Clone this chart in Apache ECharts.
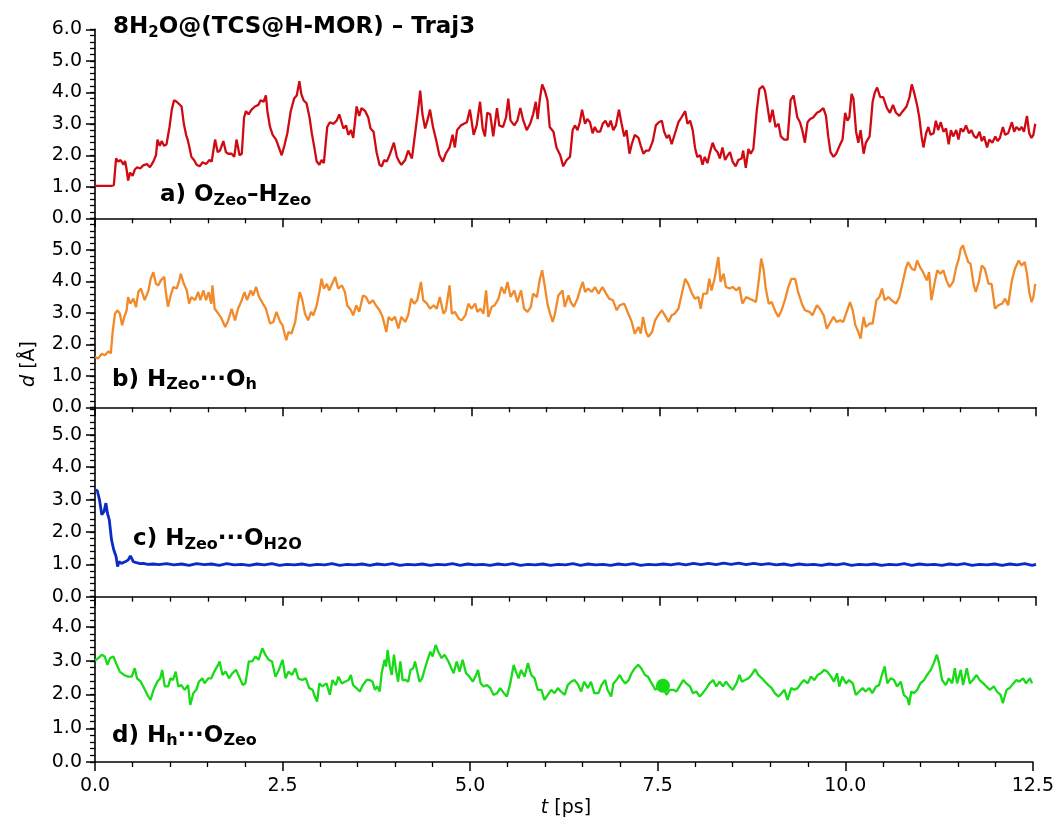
<!DOCTYPE html>
<html>
<head>
<meta charset="utf-8">
<script src="https://cdn.jsdelivr.net/npm/echarts@6/dist/echarts.min.js"></script>
<style>
html,body{margin:0;padding:0;background:#fff;}
#chart{width:1057px;height:825px;}
</style>
</head>
<body>
<div id="chart"></div>
<script>
// ---- data (t [ps], d [Å]) ----
const dataA = [[0,1.03],[0.11,1.03],[0.22,1.03],[0.25,1.05],[0.28,1.90],[0.31,1.80],[0.34,1.85],[0.38,1.70],[0.40,1.82],[0.42,1.55],[0.44,1.20],[0.465,1.45],[0.50,1.35],[0.53,1.55],[0.56,1.62],[0.60,1.58],[0.64,1.68],[0.69,1.72],[0.73,1.62],[0.775,1.80],[0.81,2.00],[0.83,2.50],[0.86,2.30],[0.885,2.45],[0.92,2.30],[0.95,2.35],[0.99,2.90],[1.02,3.45],[1.05,3.75],[1.085,3.70],[1.12,3.62],[1.15,3.55],[1.18,3.00],[1.21,2.65],[1.23,2.50],[1.25,2.30],[1.28,1.95],[1.315,1.85],[1.35,1.70],[1.39,1.65],[1.43,1.78],[1.475,1.72],[1.52,1.85],[1.55,1.80],[1.595,2.50],[1.63,2.10],[1.66,2.15],[1.705,2.45],[1.74,2.10],[1.77,2.05],[1.815,2.05],[1.85,1.95],[1.88,2.50],[1.92,2.00],[1.95,2.05],[1.98,3.20],[2.005,3.40],[2.04,3.30],[2.08,3.45],[2.125,3.55],[2.17,3.60],[2.20,3.75],[2.24,3.70],[2.27,3.90],[2.29,3.40],[2.325,2.90],[2.36,2.65],[2.405,2.50],[2.45,2.20],[2.48,2.00],[2.515,2.30],[2.555,2.70],[2.60,3.40],[2.645,3.80],[2.68,3.90],[2.715,4.35],[2.74,3.95],[2.77,3.75],[2.81,3.65],[2.85,3.20],[2.88,2.70],[2.91,2.30],[2.945,1.80],[2.98,1.70],[3.01,1.85],[3.04,1.75],[3.085,2.90],[3.12,3.05],[3.165,3.00],[3.21,3.10],[3.245,3.30],[3.27,3.35],[3.30,2.85],[3.335,2.95],[3.365,2.65],[3.40,2.80],[3.43,2.55],[3.475,3.55],[3.51,3.25],[3.54,3.50],[3.59,3.40],[3.63,3.20],[3.66,2.85],[3.70,2.75],[3.74,2.10],[3.78,1.70],[3.81,1.65],[3.84,1.85],[3.875,1.80],[3.92,2.05],[3.97,2.40],[4.01,1.95],[4.04,1.80],[4.07,1.70],[4.12,1.85],[4.16,2.15],[4.21,1.90],[4.25,2.65],[4.30,3.60],[4.32,4.05],[4.35,3.30],[4.385,2.85],[4.415,3.10],[4.45,3.45],[4.49,2.90],[4.53,2.50],[4.575,2.00],[4.62,1.80],[4.66,2.05],[4.71,2.25],[4.75,2.65],[4.78,2.25],[4.81,2.80],[4.86,2.95],[4.90,3.00],[4.94,3.05],[4.98,3.45],[5.03,2.65],[5.07,2.95],[5.115,3.70],[5.15,2.85],[5.18,2.60],[5.21,3.35],[5.25,3.30],[5.29,2.60],[5.34,3.50],[5.37,2.95],[5.42,2.90],[5.46,3.20],[5.49,3.80],[5.52,3.10],[5.57,2.95],[5.61,3.10],[5.65,3.50],[5.69,3.10],[5.735,2.80],[5.78,3.00],[5.82,3.30],[5.855,3.70],[5.88,3.15],[5.91,3.80],[5.94,4.25],[5.975,4.05],[6.01,3.75],[6.04,2.90],[6.09,2.75],[6.13,2.25],[6.18,2.00],[6.22,1.65],[6.265,1.85],[6.31,1.95],[6.345,2.80],[6.375,2.95],[6.41,2.80],[6.44,3.05],[6.47,3.45],[6.51,3.00],[6.54,3.15],[6.575,3.05],[6.61,2.70],[6.64,2.90],[6.67,2.75],[6.71,2.75],[6.745,3.00],[6.78,3.10],[6.82,2.90],[6.85,3.10],[6.885,2.80],[6.92,2.95],[6.96,3.45],[6.995,3.00],[7.03,2.60],[7.06,2.80],[7.10,2.05],[7.13,2.35],[7.17,2.65],[7.22,2.55],[7.25,2.30],[7.285,2.05],[7.32,2.15],[7.36,2.15],[7.41,2.45],[7.45,2.95],[7.49,3.05],[7.53,3.10],[7.56,2.75],[7.595,2.55],[7.625,2.65],[7.66,2.35],[7.705,2.70],[7.75,3.05],[7.79,3.20],[7.84,3.40],[7.87,3.00],[7.905,3.10],[7.94,2.80],[7.97,2.25],[8.00,1.95],[8.04,2.00],[8.07,1.70],[8.10,1.95],[8.135,1.75],[8.17,2.10],[8.205,2.40],[8.235,2.20],[8.27,2.10],[8.30,1.90],[8.335,2.25],[8.37,1.85],[8.405,2.00],[8.435,2.10],[8.47,1.80],[8.51,1.65],[8.545,1.85],[8.59,1.90],[8.61,2.15],[8.645,1.60],[8.68,2.20],[8.71,2.05],[8.745,2.20],[8.79,3.40],[8.825,4.10],[8.87,4.20],[8.90,4.05],[8.93,3.60],[8.965,3.05],[9.00,3.45],[9.04,2.90],[9.08,3.00],[9.11,2.60],[9.155,2.50],[9.20,2.50],[9.24,3.75],[9.28,3.90],[9.305,3.95],[9.33,3.20],[9.365,3.05],[9.40,2.75],[9.43,2.40],[9.465,3.05],[9.50,3.15],[9.54,3.20],[9.59,3.35],[9.63,3.40],[9.675,3.50],[9.71,3.25],[9.74,2.60],[9.77,2.10],[9.81,1.95],[9.845,2.05],[9.89,2.30],[9.93,2.50],[9.965,3.35],[9.995,3.10],[10.02,3.20],[10.05,3.95],[10.075,3.80],[10.11,2.75],[10.14,2.40],[10.17,2.80],[10.21,2.05],[10.24,2.40],[10.29,2.60],[10.33,3.70],[10.36,4.00],[10.39,4.15],[10.43,3.85],[10.47,3.85],[10.52,3.50],[10.56,3.35],[10.60,3.60],[10.64,3.35],[10.685,3.25],[10.73,3.40],[10.78,3.55],[10.82,3.85],[10.85,4.25],[10.88,4.00],[10.92,3.60],[10.95,3.20],[10.98,2.60],[11.005,2.25],[11.04,2.70],[11.07,2.90],[11.10,2.65],[11.14,2.70],[11.17,3.10],[11.20,2.80],[11.235,3.05],[11.27,2.75],[11.305,2.85],[11.34,2.35],[11.37,2.80],[11.40,2.60],[11.44,2.80],[11.47,2.50],[11.50,2.85],[11.535,2.75],[11.57,2.95],[11.61,2.70],[11.64,2.80],[11.68,2.60],[11.71,2.55],[11.75,2.75],[11.78,2.45],[11.81,2.60],[11.85,2.25],[11.88,2.50],[11.92,2.40],[11.96,2.60],[11.99,2.45],[12.02,2.55],[12.06,2.90],[12.09,2.65],[12.13,2.70],[12.18,3.05],[12.21,2.75],[12.24,2.90],[12.28,2.80],[12.31,2.90],[12.34,2.75],[12.38,3.25],[12.41,2.70],[12.44,2.55],[12.465,2.65],[12.49,3.00]];

const dataB = [[0,1.60],[0.04,1.55],[0.09,1.70],[0.13,1.65],[0.18,1.78],[0.21,1.71],[0.235,2.40],[0.265,2.97],[0.30,3.08],[0.33,2.97],[0.36,2.60],[0.39,2.87],[0.42,3.08],[0.44,3.50],[0.47,3.29],[0.51,3.45],[0.545,3.18],[0.575,3.66],[0.61,3.77],[0.63,3.82],[0.66,3.40],[0.71,3.71],[0.74,4.08],[0.775,4.29],[0.81,3.92],[0.84,3.87],[0.875,4.03],[0.92,4.14],[0.94,3.66],[0.97,3.19],[1.005,3.55],[1.04,3.82],[1.085,3.77],[1.12,4.03],[1.14,4.24],[1.18,3.92],[1.22,3.71],[1.25,3.29],[1.28,3.50],[1.33,3.40],[1.37,3.66],[1.40,3.40],[1.44,3.71],[1.475,3.40],[1.51,3.66],[1.545,3.29],[1.56,3.87],[1.59,3.13],[1.64,2.97],[1.68,2.82],[1.73,2.55],[1.77,2.76],[1.815,3.13],[1.86,2.76],[1.90,3.13],[1.95,3.40],[1.985,3.66],[2.02,3.40],[2.07,3.71],[2.10,3.55],[2.14,3.82],[2.18,3.50],[2.23,3.29],[2.27,3.13],[2.325,2.66],[2.37,2.71],[2.41,3.03],[2.46,2.71],[2.49,2.61],[2.54,2.13],[2.57,2.39],[2.61,2.34],[2.66,2.71],[2.69,3.24],[2.72,3.66],[2.75,3.45],[2.79,2.97],[2.83,2.76],[2.87,3.03],[2.90,2.92],[2.945,3.24],[2.98,3.66],[3.01,4.08],[3.04,3.77],[3.08,3.92],[3.11,3.71],[3.15,3.92],[3.19,4.14],[3.23,3.77],[3.28,3.87],[3.32,3.66],[3.35,3.24],[3.40,3.08],[3.43,2.92],[3.47,3.24],[3.51,3.03],[3.56,3.55],[3.60,3.50],[3.645,3.29],[3.69,3.40],[3.73,3.24],[3.78,3.08],[3.82,2.87],[3.87,2.39],[3.90,2.87],[3.94,2.76],[3.985,2.87],[4.03,2.50],[4.07,2.87],[4.12,2.71],[4.16,2.92],[4.20,3.45],[4.24,3.29],[4.28,3.40],[4.33,3.98],[4.36,3.40],[4.41,3.29],[4.45,3.13],[4.50,3.24],[4.54,3.13],[4.58,3.50],[4.63,2.97],[4.66,3.08],[4.71,3.87],[4.74,2.97],[4.78,3.03],[4.83,2.82],[4.87,2.76],[4.92,2.92],[4.96,3.29],[5.00,3.13],[5.05,3.29],[5.08,3.03],[5.12,3.13],[5.16,2.97],[5.195,3.71],[5.225,2.87],[5.27,3.19],[5.31,3.24],[5.36,3.45],[5.40,3.82],[5.44,3.61],[5.48,3.98],[5.52,3.50],[5.57,3.71],[5.61,3.34],[5.66,3.71],[5.70,3.13],[5.745,3.03],[5.79,3.19],[5.82,3.61],[5.87,3.50],[5.91,4.08],[5.94,4.35],[5.98,3.77],[6.01,3.29],[6.045,2.97],[6.08,2.71],[6.11,2.97],[6.155,3.55],[6.18,3.50],[6.21,3.71],[6.24,3.19],[6.29,3.55],[6.32,3.34],[6.36,3.19],[6.41,3.45],[6.44,3.71],[6.48,3.98],[6.51,3.66],[6.55,3.77],[6.60,3.66],[6.64,3.82],[6.69,3.61],[6.74,3.82],[6.79,3.61],[6.83,3.45],[6.88,3.40],[6.93,3.08],[6.97,3.24],[7.03,3.29],[7.085,2.97],[7.13,2.71],[7.17,2.34],[7.22,2.55],[7.25,2.34],[7.28,2.87],[7.32,2.39],[7.35,2.24],[7.40,2.39],[7.44,2.76],[7.48,2.92],[7.53,3.08],[7.57,2.92],[7.62,2.71],[7.66,2.92],[7.70,2.97],[7.75,3.13],[7.79,3.55],[7.84,4.08],[7.88,3.92],[7.93,3.61],[7.97,3.45],[8.015,3.50],[8.045,3.13],[8.08,3.61],[8.13,3.61],[8.16,4.08],[8.19,3.71],[8.23,4.08],[8.26,4.50],[8.28,4.77],[8.31,3.98],[8.35,4.24],[8.38,3.82],[8.43,3.77],[8.47,3.82],[8.52,3.71],[8.56,3.82],[8.60,3.29],[8.65,3.50],[8.69,3.45],[8.74,3.40],[8.78,3.34],[8.82,4.08],[8.85,4.72],[8.88,4.40],[8.91,3.77],[8.95,3.29],[8.99,3.34],[9.04,3.03],[9.08,2.87],[9.12,3.08],[9.17,3.45],[9.21,3.82],[9.25,4.08],[9.30,4.08],[9.34,3.66],[9.39,3.29],[9.43,3.08],[9.49,3.03],[9.53,2.92],[9.59,3.24],[9.63,3.13],[9.68,2.92],[9.72,2.50],[9.76,2.66],[9.81,2.87],[9.85,2.71],[9.90,2.76],[9.94,2.71],[9.985,3.03],[10.03,3.34],[10.065,3.08],[10.10,2.61],[10.14,2.39],[10.17,2.18],[10.21,2.87],[10.24,2.55],[10.29,2.66],[10.33,2.66],[10.38,3.40],[10.42,3.50],[10.455,3.77],[10.49,3.40],[10.54,3.50],[10.58,3.40],[10.64,3.29],[10.685,3.50],[10.73,3.98],[10.77,4.40],[10.80,4.61],[10.85,4.40],[10.89,4.35],[10.92,4.66],[10.96,4.45],[11.00,4.29],[11.05,4.03],[11.08,4.29],[11.11,3.40],[11.16,4.03],[11.19,4.35],[11.23,4.24],[11.27,4.35],[11.31,4.03],[11.35,3.82],[11.40,3.98],[11.44,4.45],[11.475,4.72],[11.50,5.03],[11.53,5.14],[11.57,4.82],[11.60,4.61],[11.63,4.56],[11.67,3.92],[11.70,3.66],[11.74,3.98],[11.78,4.50],[11.82,4.40],[11.87,3.92],[11.91,3.92],[11.955,3.13],[12.00,3.24],[12.05,3.29],[12.09,3.45],[12.13,3.24],[12.18,4.03],[12.22,4.40],[12.27,4.66],[12.31,4.50],[12.35,4.61],[12.38,4.24],[12.41,3.66],[12.44,3.34],[12.465,3.50],[12.49,3.92]];

const dataC = [[0,3.30],[0.03,3.28],[0.06,2.99],[0.09,2.53],[0.12,2.63],[0.145,2.89],[0.165,2.58],[0.19,2.37],[0.22,1.75],[0.25,1.44],[0.28,1.24],[0.30,0.93],[0.32,1.08],[0.35,1.03],[0.40,1.08],[0.44,1.13],[0.47,1.26],[0.51,1.08],[0.55,1.05],[0.60,1.02],[0.64,1.03],[0.70,1.00],[0.775,1.01],[0.85,0.99],[0.95,1.02],[1.05,0.98],[1.15,1.01],[1.25,0.97],[1.35,1.02],[1.45,0.99],[1.55,1.01],[1.65,0.97],[1.75,1.02],[1.85,0.98],[1.95,1.00],[2.05,0.97],[2.15,1.01],[2.25,0.98],[2.35,1.02],[2.45,0.97],[2.55,1.00],[2.65,0.98],[2.75,1.01],[2.85,0.97],[2.95,1.00],[3.05,0.98],[3.15,1.02],[3.25,0.97],[3.35,1.00],[3.45,0.98],[3.55,1.01],[3.65,0.97],[3.75,1.01],[3.85,0.98],[3.95,1.02],[4.05,0.97],[4.15,1.00],[4.25,0.98],[4.35,1.01],[4.45,0.97],[4.55,1.00],[4.65,0.98],[4.75,1.02],[4.85,0.97],[4.95,1.01],[5.05,0.98],[5.15,1.00],[5.25,0.97],[5.35,1.01],[5.45,0.98],[5.55,1.02],[5.65,0.97],[5.75,1.00],[5.85,0.98],[5.95,1.01],[6.05,0.97],[6.15,1.00],[6.25,0.98],[6.35,1.02],[6.45,0.97],[6.55,1.01],[6.65,0.98],[6.75,1.00],[6.85,0.97],[6.95,1.01],[7.05,0.98],[7.15,1.02],[7.25,0.97],[7.35,1.00],[7.45,0.98],[7.55,1.01],[7.65,0.98],[7.75,1.02],[7.85,0.98],[7.95,1.03],[8.05,0.99],[8.15,1.03],[8.25,0.99],[8.35,1.04],[8.45,1.00],[8.55,1.04],[8.65,0.99],[8.75,1.03],[8.85,0.99],[8.95,1.02],[9.05,0.98],[9.15,1.01],[9.25,0.97],[9.35,1.01],[9.45,0.98],[9.55,1.00],[9.65,0.97],[9.75,1.01],[9.85,0.98],[9.95,1.02],[10.05,0.97],[10.15,1.00],[10.25,0.98],[10.35,1.01],[10.45,0.97],[10.55,1.00],[10.65,0.98],[10.75,1.02],[10.85,0.97],[10.95,1.01],[11.05,0.98],[11.15,1.00],[11.25,0.97],[11.35,1.01],[11.45,0.98],[11.55,1.02],[11.65,0.97],[11.75,1.00],[11.85,0.98],[11.95,1.01],[12.05,0.97],[12.15,1.01],[12.25,0.98],[12.35,1.02],[12.45,0.97],[12.5,1.00]];

const dataD = [[0,3.01],[0.045,3.08],[0.09,3.18],[0.13,3.13],[0.165,2.88],[0.20,3.08],[0.245,3.13],[0.28,2.93],[0.33,2.68],[0.385,2.58],[0.44,2.53],[0.49,2.53],[0.53,2.78],[0.56,2.48],[0.61,2.38],[0.665,2.14],[0.71,1.94],[0.74,1.84],[0.78,2.14],[0.83,2.38],[0.87,2.48],[0.895,2.73],[0.93,2.24],[0.975,2.24],[1.005,2.48],[1.04,2.43],[1.075,2.68],[1.11,2.24],[1.15,2.28],[1.195,2.14],[1.24,2.28],[1.27,1.69],[1.31,2.04],[1.35,2.14],[1.385,2.38],[1.43,2.48],[1.46,2.33],[1.51,2.48],[1.55,2.48],[1.59,2.68],[1.64,2.88],[1.66,2.98],[1.70,2.58],[1.74,2.68],[1.785,2.48],[1.83,2.63],[1.88,2.73],[1.93,2.48],[1.97,2.28],[2.005,2.33],[2.05,2.98],[2.095,2.98],[2.14,3.13],[2.18,3.03],[2.23,3.37],[2.27,3.18],[2.315,3.03],[2.36,2.98],[2.405,2.53],[2.45,2.73],[2.50,3.03],[2.54,2.48],[2.58,2.68],[2.625,2.58],[2.67,2.78],[2.71,2.48],[2.76,2.43],[2.81,2.48],[2.855,2.19],[2.90,2.14],[2.93,1.94],[2.96,1.79],[2.99,2.33],[3.03,2.24],[3.085,2.33],[3.13,1.99],[3.165,2.43],[3.21,2.28],[3.245,2.53],[3.29,2.33],[3.33,2.38],[3.38,2.43],[3.41,2.58],[3.44,2.28],[3.485,2.19],[3.53,2.09],[3.57,2.28],[3.62,2.43],[3.66,2.43],[3.70,2.38],[3.73,2.14],[3.76,2.24],[3.795,2.09],[3.82,2.63],[3.86,3.03],[3.88,2.83],[3.90,3.32],[3.93,2.83],[3.955,2.58],[3.985,3.18],[4.015,2.68],[4.04,2.38],[4.07,2.98],[4.10,2.43],[4.14,2.43],[4.175,2.38],[4.205,2.73],[4.24,2.78],[4.265,2.98],[4.295,2.68],[4.325,2.38],[4.36,2.48],[4.405,2.83],[4.44,3.08],[4.47,3.27],[4.50,3.13],[4.54,3.47],[4.575,3.27],[4.62,3.08],[4.66,3.18],[4.71,2.98],[4.75,2.78],[4.78,2.63],[4.82,2.98],[4.86,2.68],[4.90,3.03],[4.945,2.63],[4.99,2.53],[5.035,2.38],[5.07,2.53],[5.105,2.73],[5.14,2.33],[5.18,2.24],[5.225,2.28],[5.27,2.19],[5.31,1.99],[5.36,2.04],[5.40,2.19],[5.45,2.04],[5.49,1.94],[5.535,2.33],[5.58,2.88],[5.61,2.68],[5.645,2.48],[5.68,2.73],[5.725,2.53],[5.77,2.93],[5.815,2.58],[5.86,2.48],[5.90,2.14],[5.95,2.14],[5.99,1.84],[6.035,1.99],[6.08,2.14],[6.125,2.04],[6.17,2.19],[6.21,2.09],[6.26,1.99],[6.30,2.28],[6.345,2.38],[6.39,2.43],[6.43,2.33],[6.48,2.09],[6.52,2.38],[6.57,2.19],[6.61,2.38],[6.655,2.04],[6.71,2.04],[6.75,2.28],[6.80,2.43],[6.83,2.14],[6.88,1.94],[6.91,2.33],[6.95,2.43],[6.995,2.58],[7.03,2.43],[7.07,2.33],[7.115,2.43],[7.15,2.63],[7.195,2.78],[7.24,2.88],[7.28,2.78],[7.33,2.58],[7.37,2.53],[7.42,2.33],[7.47,2.14],[7.53,2.28],[7.57,2.28],[7.615,1.99],[7.66,2.14],[7.705,2.14],[7.75,2.09],[7.79,2.24],[7.84,2.43],[7.88,2.33],[7.93,2.24],[7.97,2.04],[8.015,2.09],[8.06,1.94],[8.10,2.04],[8.15,2.19],[8.19,2.33],[8.24,2.43],[8.28,2.24],[8.325,2.38],[8.37,2.24],[8.41,2.38],[8.46,2.24],[8.50,2.14],[8.55,2.33],[8.59,2.58],[8.62,2.38],[8.665,2.43],[8.71,2.48],[8.75,2.58],[8.80,2.75],[8.84,2.58],[8.89,2.48],[8.93,2.38],[8.975,2.28],[9.02,2.19],[9.06,2.04],[9.11,1.94],[9.15,2.04],[9.19,2.14],[9.23,1.84],[9.28,2.19],[9.32,2.14],[9.365,2.19],[9.41,2.33],[9.45,2.43],[9.50,2.33],[9.54,2.53],[9.59,2.43],[9.63,2.58],[9.675,2.63],[9.72,2.73],[9.76,2.68],[9.81,2.53],[9.85,2.38],[9.89,2.63],[9.92,2.24],[9.96,2.53],[10.01,2.33],[10.05,2.43],[10.10,2.33],[10.14,1.99],[10.185,2.09],[10.23,2.19],[10.27,2.09],[10.32,2.19],[10.36,2.04],[10.41,2.24],[10.45,2.28],[10.495,2.63],[10.525,2.83],[10.56,2.33],[10.605,2.48],[10.65,2.43],[10.69,2.24],[10.74,2.38],[10.78,1.99],[10.83,1.89],[10.85,1.69],[10.88,2.09],[10.915,2.04],[10.96,2.14],[11.00,2.33],[11.05,2.43],[11.09,2.58],[11.14,2.73],[11.18,2.93],[11.22,3.18],[11.25,2.93],[11.29,2.43],[11.34,2.28],[11.38,2.48],[11.425,2.33],[11.46,2.78],[11.49,2.33],[11.54,2.73],[11.57,2.28],[11.62,2.78],[11.66,2.33],[11.70,2.43],[11.75,2.58],[11.79,2.43],[11.84,2.33],[11.88,2.24],[11.925,2.14],[11.98,2.24],[12.02,2.09],[12.07,1.99],[12.10,1.74],[12.15,2.14],[12.19,2.19],[12.24,2.33],[12.28,2.43],[12.32,2.38],[12.37,2.48],[12.41,2.33],[12.46,2.48],[12.49,2.33]];

const dotD = [[7.57, 2.26]];

const xTicks = [0, 2.5, 5, 7.5, 10, 12.5];

// ---- layout / style ----
const FONT = 'DejaVu Sans';
const panels = [
  {top: 29.3, height: 189, max: 6, data: dataA, color: '#cf0a12', width: 2.3},
  {top: 218.3, height: 189, max: 6, data: dataB, color: '#f08a2a', width: 2.3},
  {top: 407.3, height: 189.4, max: 5.85, data: dataC, color: '#0b2bc6', width: 2.8},
  {top: 596.7, height: 165.3, max: 4.9, data: dataD, color: '#17db17', width: 2.3}
];

const grids = [], xAxes = [], yAxes = [], series = [];
panels.forEach((p, i) => {
  grids.push({left: 95, right: 21, top: p.top, height: p.height, containLabel: false});
  xAxes.push({
    type: 'value', gridIndex: i, min: xTicks[0], max: xTicks[xTicks.length - 1], interval: 2.5,
    axisLine: {show: true, onZero: false, lineStyle: {color: '#000', width: 1.6}},
    axisTick: {show: true, inside: false, length: 9, lineStyle: {color: '#000', width: 1.5}},
    minorTick: {show: true, splitNumber: 5, length: 5, lineStyle: {color: '#000', width: 1.3}},
    splitLine: {show: false}, minorSplitLine: {show: false},
    axisLabel: {show: i === 3, margin: 15, color: '#000', fontFamily: FONT, fontSize: 19,
      formatter: v => v.toFixed(1)}
  });
  yAxes.push({
    type: 'value', gridIndex: i, position: 'left', min: 0, max: p.max, interval: 1,
    axisLine: {show: true, onZero: false, lineStyle: {color: '#000', width: 1.6}},
    axisTick: {show: true, inside: false, length: 9, lineStyle: {color: '#000', width: 1.5}},
    splitLine: {show: false},
    axisLabel: {show: true, margin: 13, color: '#000', fontFamily: FONT, fontSize: 19,
      showMaxLabel: i === 0, showMinLabel: true,
      formatter: v => (Math.abs(v - Math.round(v)) < 1e-6 ? v.toFixed(1) : '')}
  });
  yAxes.push({
    type: 'value', gridIndex: i, position: 'left', offset: 0, min: 0, max: p.max, interval: 0.2,
    axisLine: {show: false},
    axisTick: {show: true, inside: false, length: 5, lineStyle: {color: '#000', width: 1.3}},
    splitLine: {show: false},
    axisLabel: {show: false}
  });
  series.push({
    type: 'line', xAxisIndex: i, yAxisIndex: 2 * i, data: p.data,
    showSymbol: false, symbol: 'none', smooth: false,
    lineStyle: {color: p.color, width: p.width}, itemStyle: {color: p.color},
    animation: false, z: 3
  });
});
series.push({
  type: 'scatter', xAxisIndex: 3, yAxisIndex: 6, data: dotD,
  symbol: 'circle', symbolSize: 14, itemStyle: {color: '#17db17', opacity: 1}, animation: false, z: 4
});

const mainSty = fs => ({fontFamily: FONT, fontWeight: 'bold', fontSize: fs, lineHeight: 26, color: '#000'});
const subSty = fs => ({fontFamily: FONT, fontWeight: 'bold', fontSize: fs, lineHeight: 7, verticalAlign: 'bottom', color: '#000'});
const richLbl = {m: mainSty(23), s: subSty(16)};
const richTitle = {m: mainSty(23), s: subSty(15)};

function lbl(x, y, text, rich) {
  return {type: 'text', x: x, y: y, z: 10,
    style: {text: text, rich: rich, align: 'left', verticalAlign: 'middle'}};
}

const graphics = [
  lbl(113, 27.5, '{m|8H}{s|2}{m|O@(TCS@H-MOR) – Traj3}', richTitle),
  lbl(160, 195.5, '{m|a) O}{s|Zeo}{m|–H}{s|Zeo}', richLbl),
  lbl(112, 380, '{m|b) H}{s|Zeo}{m|···O}{s|h}', richLbl),
  lbl(133, 539.5, '{m|c) H}{s|Zeo}{m|···O}{s|H2O}', richLbl),
  lbl(112, 736, '{m|d) H}{s|h}{m|···O}{s|Zeo}', richLbl),
  {type: 'text', x: 29, y: 364, rotation: Math.PI / 2, z: 10,
    style: {text: '{i|d}{n| [Å]}', align: 'center', verticalAlign: 'middle',
      rich: {i: {fontFamily: FONT, fontStyle: 'italic', fontSize: 19, color: '#000'},
             n: {fontFamily: FONT, fontSize: 19, color: '#000'}}}},
  {type: 'text', x: 566, y: 808, z: 10,
    style: {text: '{i|t}{n| [ps]}', align: 'center', verticalAlign: 'middle',
      rich: {i: {fontFamily: FONT, fontStyle: 'italic', fontSize: 19, color: '#000'},
             n: {fontFamily: FONT, fontSize: 19, color: '#000'}}}}
];

const chart = echarts.init(document.getElementById('chart'), null, {renderer: 'canvas'});
chart.setOption({
  animation: false,
  backgroundColor: '#fff',
  grid: grids, xAxis: xAxes, yAxis: yAxes, series: series,
  graphic: graphics
});
</script>
</body>
</html>
